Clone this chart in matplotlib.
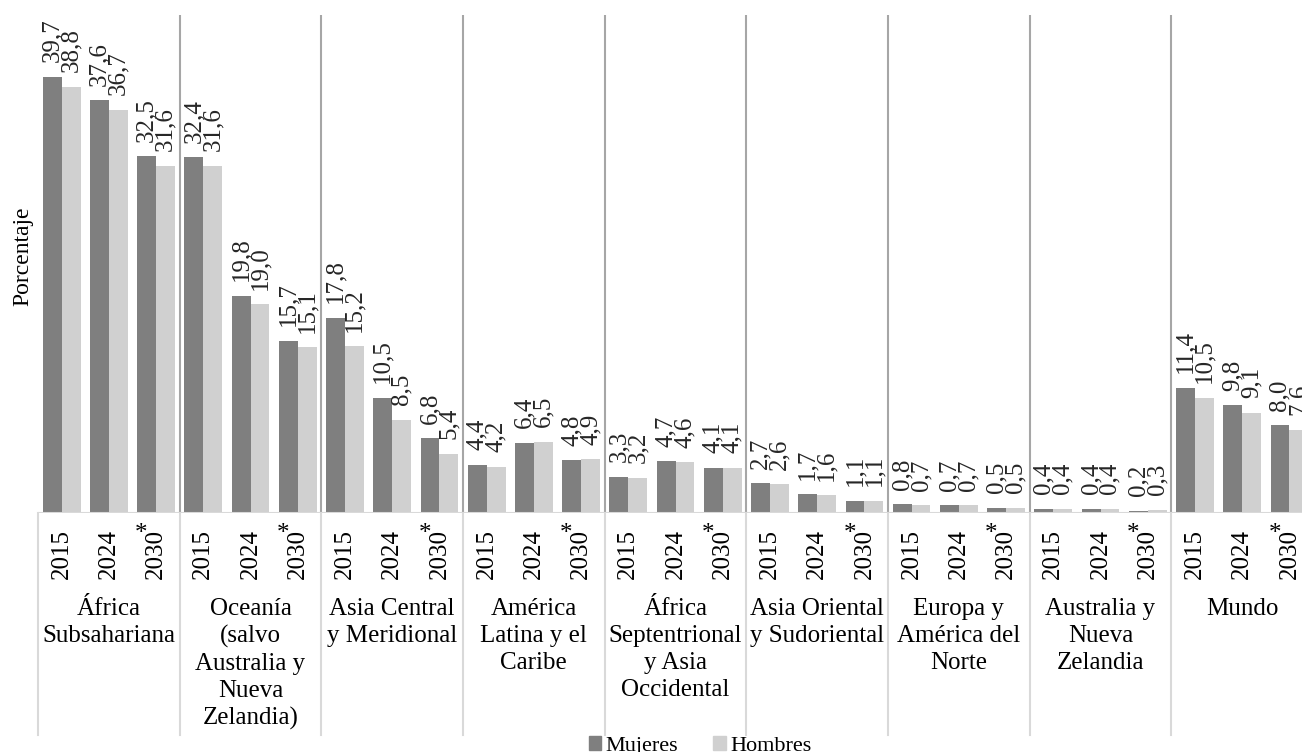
import numpy as np
import matplotlib
matplotlib.use("Agg")
import matplotlib.pyplot as plt
from matplotlib.transforms import blended_transform_factory
from matplotlib.patches import Patch

plt.rcParams['font.family'] = ['Liberation Serif', 'DejaVu Serif']

regions = [
    "África\nSubsahariana",
    "Oceanía\n(salvo\nAustralia y\nNueva\nZelandia)",
    "Asia Central\ny Meridional",
    "América\nLatina y el\nCaribe",
    "África\nSeptentrional\ny Asia\nOccidental",
    "Asia Oriental\ny Sudoriental",
    "Europa y\nAmérica del\nNorte",
    "Australia y\nNueva\nZelandia",
    "Mundo",
]
years = ["2015", "2024", "2030"]

# porcentajes por región, en orden 2015, 2024, 2030*
mujeres = [
    [39.7, 37.6, 32.5],
    [32.4, 19.8, 15.7],
    [17.8, 10.5, 6.8],
    [4.4, 6.4, 4.8],
    [3.3, 4.7, 4.1],
    [2.7, 1.7, 1.1],
    [0.8, 0.7, 0.5],
    [0.4, 0.4, 0.2],
    [11.4, 9.8, 8.0],
]
hombres = [
    [38.8, 36.7, 31.6],
    [31.6, 19.0, 15.1],
    [15.2, 8.5, 5.4],
    [4.2, 6.5, 4.9],
    [3.2, 4.6, 4.1],
    [2.6, 1.6, 1.1],
    [0.7, 0.7, 0.5],
    [0.4, 0.4, 0.3],
    [10.5, 9.1, 7.6],
]

C_MUJ = '#7f7f7f'
C_HOM = '#d0d0d0'
W, H = 1302, 752
FS = 18

fig = plt.figure(figsize=(W / 100, H / 100), dpi=100)
base_px = 513
top_px = 15
ax = fig.add_axes([38 / W, (H - base_px) / H, (1313 - 38) / W, (base_px - top_px) / H])

n_slots = len(regions) * len(years)
ymax = 45.35
ax.set_xlim(0, n_slots)
ax.set_ylim(0, ymax)
for s in ax.spines.values():
    s.set_visible(False)
ax.set_xticks([])
ax.set_yticks([])

m_vals = np.array(mujeres).ravel()
h_vals = np.array(hombres).ravel()
xc = np.arange(n_slots) + 0.5
bw = 0.4

ax.bar(xc - bw / 2, m_vals, bw, color=C_MUJ, zorder=2)
ax.bar(xc + bw / 2, h_vals, bw, color=C_HOM, zorder=2)

def fmt(v):
    return f"{v:.1f}".replace('.', ',')

for xi, mv, hv in zip(xc, m_vals, h_vals):
    for dx, v in ((-bw / 2, mv), (bw / 2, hv)):
        ax.annotate(fmt(v), (xi + dx, v), xytext=(0, 10.5), textcoords='offset points',
                    rotation=90, ha='center', va='bottom', fontsize=FS,
                    color='#262626', clip_on=False)

# separadores entre regiones
seps = np.arange(len(years), n_slots, len(years))
ax.vlines(seps, 0, ymax, color='#a6a6a6', lw=1.5, zorder=1)
ax.axhline(0, color='#d9d9d9', lw=1.5, zorder=3)

blend = blended_transform_factory(ax.transData, fig.transFigure)
y_base = (H - base_px) / H
y_low = (H - 735) / H
for sx in np.concatenate([[0], seps]):
    ax.plot([sx, sx], [y_base, y_low], color='#d9d9d9', lw=1.5,
            transform=blend, clip_on=False)

# etiquetas de años
for i, xi in enumerate(xc):
    yr = years[i % 3]
    ax.text(xi, (H - 529) / H, yr, rotation=90, ha='center', va='top',
            fontsize=FS, transform=blend, clip_on=False)
    if i % 3 == 2:
        ax.text(xi - 0.31, (H - 534) / H, "*", ha='center', va='center',
                fontsize=FS, transform=blend, clip_on=False)

# nombres de regiones
for g, name in enumerate(regions):
    ax.text(g * 3 + 1.5, (H - 598) / H, name, ha='center', va='top',
            fontsize=FS, linespacing=1.29, transform=blend, clip_on=False)

fig.text(23 / W, 1 - 256 / H, "Porcentaje", rotation=90, ha='center',
         va='center', fontsize=17)

handles = [Patch(color=C_MUJ, label='Mujeres'), Patch(color=C_HOM, label='Hombres')]
fig.legend(handles=handles, loc='center', bbox_to_anchor=(700 / W, 1 - 746 / H),
           ncol=2, frameon=False, fontsize=16, handlelength=0.55,
           handleheight=0.55, handletextpad=0.2, columnspacing=1.6,
           borderpad=0)

fig.savefig("out.png", dpi=100)
